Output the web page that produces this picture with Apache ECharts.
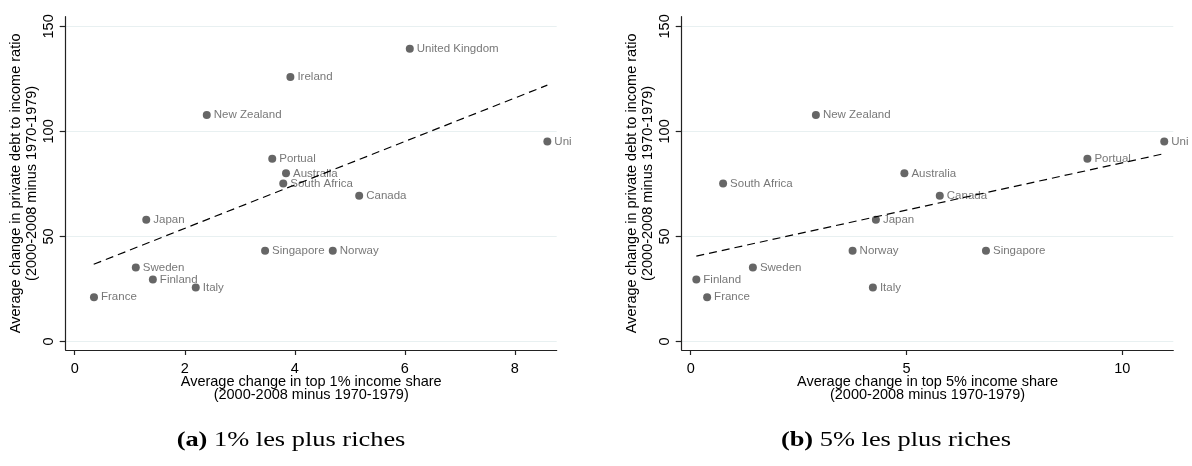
<!DOCTYPE html>
<html><head><meta charset="utf-8">
<script src="https://cdn.jsdelivr.net/npm/echarts@6/dist/echarts.min.js"></script>
<style>html,body{margin:0;padding:0;background:#fff}#c{width:1192px;height:466px}</style>
</head><body><div id="c"></div>
<script>
// ---- data ----
const countries   = ['France','Sweden','Finland','Italy','Japan','New Zealand','Ireland','Portual','Australia','South Africa','Singapore','United Kingdom','Norway','Canada','United States'];
const debtChange  = [21.0, 35.2, 29.5, 25.7, 57.9, 107.8, 125.9, 87.0, 80.0, 75.2, 43.1, 139.3, 43.1, 69.3, 95.2];
const top1Change  = [0.35, 1.11, 1.42, 2.20, 1.30, 2.40, 3.92, 3.59, 3.84, 3.79, 3.46, 6.09, 4.69, 5.17, 8.59];
const top5Change  = [0.38, 1.44, 0.13, 4.22, 4.29, 2.90, null, 9.19, 4.95, 0.75, 6.84, null, 3.75, 5.77, 10.97];
const fitLine1    = [[0.345, 36.7], [8.59, 122.0]];
const fitLine2    = [[0.13, 40.6], [10.97, 89.4]];
const xTicks1     = [0, 2, 4, 6, 8];
const xTicks2     = [0, 5, 10];
const yTicks      = [0, 50, 100, 150];
const yTitle      = 'Average change in private debt to income ratio\n(2000-2008 minus 1970-1979)';
const xTitle1     = 'Average change in top 1% income share\n(2000-2008 minus 1970-1979)';
const xTitle2     = 'Average change in top 5% income share\n(2000-2008 minus 1970-1979)';
const captionA    = ['(a)', '1% les plus riches'];
const captionB    = ['(b)', '5% les plus riches'];

const FONT = 'Liberation Sans, Arial, Helvetica, sans-serif';
const SERIF = 'Liberation Serif, Times New Roman, serif';

function points(xs) {
  const out = [];
  countries.forEach((c, i) => {
    if (xs[i] == null) return;
    const item = { name: c, value: [xs[i], debtChange[i]] };
    if (c === 'United States') item.label = { width: 19, overflow: 'truncate', ellipsis: '' };
    out.push(item);
  });
  return out;
}

function xAxis(idx, min, max, ticks, title) {
  return {
    type: 'value', gridIndex: idx, min: min, max: max,
    name: title, nameLocation: 'middle', nameGap: 25, nameMoveOverlap: false,
    nameTextStyle: { fontFamily: FONT, fontSize: 14.5, color: '#000', lineHeight: 13 },
    axisLine: { onZero: false, lineStyle: { color: '#222', width: 1.2 } },
    axisTick: { show: true, length: 5, customValues: ticks, lineStyle: { color: '#222', width: 1.2 } },
    axisLabel: { customValues: ticks, margin: 11, fontFamily: FONT, fontSize: 14.5, color: '#000' },
    splitLine: { show: false }
  };
}
function yAxis(idx) {
  return {
    type: 'value', gridIndex: idx, min: -4.1, max: 154.6,
    name: yTitle, nameLocation: 'middle', nameGap: 26, nameMoveOverlap: false,
    nameTextStyle: { fontFamily: FONT, fontSize: 14.5, color: '#000', lineHeight: 16 },
    axisLine: { onZero: false, lineStyle: { color: '#222', width: 1.2 } },
    axisTick: { show: true, length: 6, customValues: yTicks, lineStyle: { color: '#222', width: 1.2 } },
    axisLabel: { customValues: yTicks, rotate: 90, margin: 9, fontFamily: FONT, fontSize: 14.5, color: '#000' },
    splitLine: { show: true, lineStyle: { color: '#e8f0f1', width: 1 } }
  };
}
function scatter(idx, xs) {
  return {
    type: 'scatter', xAxisIndex: idx, yAxisIndex: idx, data: points(xs),
    symbolSize: 8, itemStyle: { color: '#404040' },
    label: { show: true, position: 'right', distance: 3, formatter: '{b}', fontFamily: FONT, fontSize: 11.5, color: '#555' },
    labelLayout: { hideOverlap: false },
    emphasis: { disabled: true }, silent: true, z: 3
  };
}
function fit(idx, data) {
  return {
    type: 'line', xAxisIndex: idx, yAxisIndex: idx, data: data, symbol: 'none',
    lineStyle: { color: '#000', width: 1.2, type: [8, 5] }, silent: true, z: 4
  };
}
function caption(x, parts) {
  return {
    type: 'text', x: x, y: 440, scaleX: 1.2, originX: 0, originY: 0,
    style: { text: '{b|' + parts[0] + '} ' + parts[1], align: 'center', verticalAlign: 'middle',
             fontSize: 22, fontFamily: SERIF, fill: '#000',
             rich: { b: { fontWeight: 'bold', fontSize: 22, fontFamily: SERIF } } }
  };
}

const chart = echarts.init(document.getElementById('c'), null, { renderer: 'canvas' });
chart.setOption({
  animation: false,
  backgroundColor: '#fff',
  grid: [
    { left: 65.7, top: 16.7, width: 491, height: 333.3 },
    { left: 681.7, top: 16.7, width: 491.6, height: 333.3 }
  ],
  xAxis: [ xAxis(0, -0.164, 8.76, xTicks1, xTitle1), xAxis(1, -0.209, 11.18, xTicks2, xTitle2) ],
  yAxis: [ yAxis(0), yAxis(1) ],
  series: [ scatter(0, top1Change), fit(0, fitLine1), scatter(1, top5Change), fit(1, fitLine2) ],
  graphic: [ caption(291, captionA), caption(896, captionB) ]
});
</script></body></html>
